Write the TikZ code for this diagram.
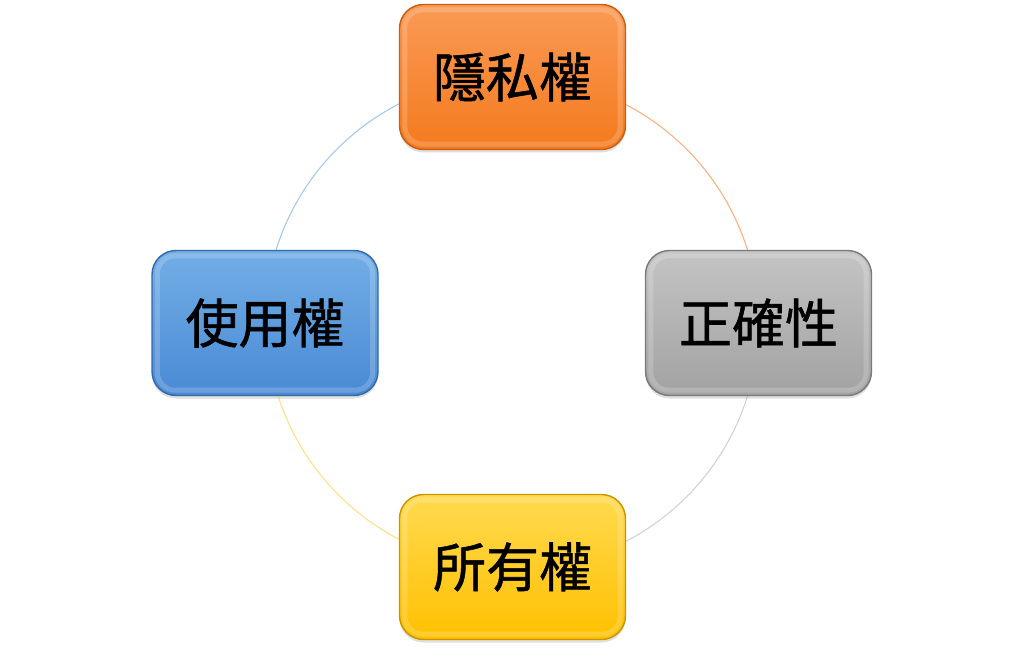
\documentclass[tikz,border=0pt]{standalone}
\usepackage{fontspec}
\newfontfamily\cjk[FakeBold=1]{Noto Sans CJK TC}
\usetikzlibrary{backgrounds,shadows}
\definecolor{orangeTop}{HTML}{FA9A55}
\definecolor{orangeBot}{HTML}{F47A1E}
\definecolor{orangeEdge}{HTML}{C85E10}
\definecolor{grayTop}{HTML}{C4C4C4}
\definecolor{grayBot}{HTML}{A2A2A2}
\definecolor{grayEdge}{HTML}{7A7A7A}
\definecolor{yellowTop}{HTML}{FFDA50}
\definecolor{yellowBot}{HTML}{FFC000}
\definecolor{yellowEdge}{HTML}{C89400}
\definecolor{blueTop}{HTML}{72AEE6}
\definecolor{blueBot}{HTML}{4A8AD4}
\definecolor{blueEdge}{HTML}{3468A8}
\definecolor{ringOrange}{HTML}{F8B183}
\definecolor{ringGray}{HTML}{D2D2D2}
\definecolor{ringYellow}{HTML}{FFE08A}
\definecolor{ringBlue}{HTML}{A8C8EA}
\tikzset{
  box/.style n args={3}{draw=#3, line width=1.4pt, rounded corners=24pt,
    minimum width=226pt, minimum height=145pt, inner sep=0pt,
    top color=#1, bottom color=#2,
    drop shadow={opacity=0.25, shadow xshift=0pt, shadow yshift=-3pt},
    font=\cjk\fontsize{53}{53}\selectfont, text=black},
  bevel/.style={draw=white, draw opacity=0.18, line width=5pt, rounded corners=18pt},
  ring/.style={line width=1.1pt}
}
\begin{document}
\begin{tikzpicture}[x=1pt,y=1pt]
\useasboundingbox (0,0) rectangle (1024,657);
\node[box={orangeTop}{orangeBot}{orangeEdge}] (top) at (512.5,580) {隱私權};
\node[box={grayTop}{grayBot}{grayEdge}] (right) at (758.5,334) {正確性};
\node[box={yellowTop}{yellowBot}{yellowEdge}] (bottom) at (512.5,90) {所有權};
\node[box={blueTop}{blueBot}{blueEdge}] (left) at (265,334) {使用權};
\foreach \n in {top,right,bottom,left}{
  \draw[bevel] ([shift={(6,-6)}]\n.north west) rectangle ([shift={(-6,6)}]\n.south east);
}
\begin{scope}[on background layer]
\draw[ring, ringOrange] (top.center) arc[start angle=90, end angle=0, radius=246];
\draw[ring, ringGray] (right.center) arc[start angle=0, end angle=-90, radius=246];
\draw[ring, ringYellow] (bottom.center) arc[start angle=-90, end angle=-180, radius=246];
\draw[ring, ringBlue] (left.center) arc[start angle=180, end angle=90, radius=246];
\end{scope}
\end{tikzpicture}
\end{document}
